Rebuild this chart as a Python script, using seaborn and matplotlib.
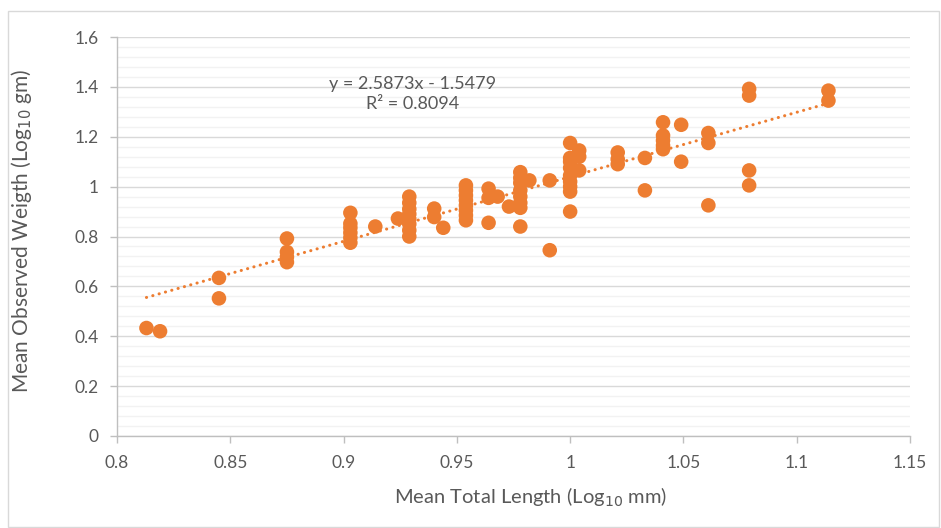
import numpy as np
import pandas as pd
import matplotlib
matplotlib.use('Agg')
import matplotlib.pyplot as plt
from matplotlib import ticker as mtick
from matplotlib.patches import Rectangle
import seaborn as sns

#log10 mean total length (mm) and log10 mean observed weight (gm)
length_log = ([0.813] + [0.819] + [0.845]*2 + [0.875]*4 + [0.903]*6 + [0.914] + [0.924]
              + [0.929]*8 + [0.940]*2 + [0.944] + [0.954]*8 + [0.964]*3 + [0.968]
              + [0.973] + [0.978]*8 + [0.982] + [0.991]*2 + [1.000]*9 + [1.004]*3
              + [1.021]*3 + [1.033]*2 + [1.041]*5 + [1.049]*2 + [1.061]*3
              + [1.079]*4 + [1.114]*2)

weight_log = [0.433,
              0.420,
              0.634, 0.552,
              0.792, 0.738, 0.718, 0.697,
              0.895, 0.852, 0.835, 0.815, 0.795, 0.775,
              0.840,
              0.872,
              0.960, 0.935, 0.910, 0.890, 0.870, 0.850, 0.825, 0.800,
              0.912, 0.878,
              0.835,
              1.005, 0.985, 0.965, 0.945, 0.925, 0.905, 0.885, 0.865,
              0.992, 0.955, 0.855,
              0.960,
              0.920,
              1.058, 1.035, 1.015, 0.985, 0.960, 0.935, 0.915, 0.840,
              1.025,
              1.025, 0.745,
              1.175, 1.115, 1.100, 1.075, 1.045, 1.020, 1.000, 0.980, 0.900,
              1.145, 1.120, 1.065,
              1.137, 1.110, 1.090,
              1.115, 0.985,
              1.258, 1.205, 1.185, 1.165, 1.150,
              1.248, 1.100,
              1.215, 1.175, 0.925,
              1.392, 1.365, 1.065, 1.005,
              1.385, 1.345]

#excel linear trendline
slope = 2.5873
intercept = -1.5479
r_squared = 0.8094

df = pd.DataFrame({'length': length_log, 'weight': weight_log})

orange = '#ED7D31'
grey_txt = '#595959'

sns.set_theme(style='white')
plt.rcParams['font.family'] = ['Lato', 'DejaVu Sans']

fig = plt.figure(figsize=(9.41, 5.28), dpi=100)
ax = fig.add_axes([117/941, 1-436/528, (910-117)/941, (436-37)/528])

#light border round the chart area
fig.patches.append(Rectangle((8/941, 1-527/528), (939-8)/941, (527-11)/528,
                             transform=fig.transFigure, fill=False,
                             edgecolor='#D9D9D9', linewidth=1))

trend = pd.DataFrame({'length': [df.length.min(), df.length.max()]})
trend['weight'] = slope*trend.length + intercept
sns.lineplot(data=trend, x='length', y='weight', ax=ax, color=orange,
             linewidth=2.2, linestyle=(0, (0.05, 2.1)),
             dash_capstyle='round', zorder=3)

sns.scatterplot(data=df, x='length', y='weight', ax=ax, color=orange,
                s=110, edgecolor='none', linewidth=0, zorder=4)

ax.set_xlim(0.8, 1.15)
ax.set_ylim(0, 1.6)
ax.xaxis.set_major_locator(mtick.MultipleLocator(0.05))
ax.yaxis.set_major_locator(mtick.MultipleLocator(0.2))
ax.yaxis.set_minor_locator(mtick.MultipleLocator(0.04))
ax.xaxis.set_major_formatter(mtick.FuncFormatter(lambda v, p: f'{v:.2f}'.rstrip('0').rstrip('.')))
ax.yaxis.set_major_formatter(mtick.FuncFormatter(lambda v, p: f'{v:.1f}'.rstrip('0').rstrip('.')))

ax.grid(True, which='major', axis='y', color='#D9D9D9', linewidth=1, zorder=0)
ax.grid(True, which='minor', axis='y', color='#F2F2F2', linewidth=1, zorder=0)
ax.grid(False, axis='x')
ax.set_axisbelow(True)

for s in ['top', 'right']:
    ax.spines[s].set_visible(False)
for s in ['left', 'bottom']:
    ax.spines[s].set_color('#BFBFBF')
    ax.spines[s].set_linewidth(1)

ax.tick_params(axis='x', which='major', pad=9)
ax.tick_params(axis='y', which='major', pad=8)
ax.tick_params(axis='both', which='major', direction='out', length=5, width=1,
               color='#BFBFBF', labelcolor=grey_txt, labelsize=12.5,
               left=True, bottom=True)
ax.tick_params(axis='y', which='minor', length=0)

ax.set_xlabel('Mean Total Length (Log$_{10}$ mm)', color=grey_txt, fontsize=14.5)
ax.set_ylabel('Mean Observed Weigth (Log$_{10}$ gm)', color=grey_txt, fontsize=15)
ax.xaxis.set_label_coords((531-117)/793, -(497-436)/399, transform=ax.transAxes)
ax.yaxis.set_label_coords(-(117-22)/793, (436-231)/399, transform=ax.transAxes)
ax.xaxis.label.set_va('center')
ax.yaxis.label.set_va('center')

ax.text(0.9305, 1.37, f'y = {slope}x - {abs(intercept)}\nR² = {r_squared}',
        ha='center', va='center', color=grey_txt, fontsize=13, linespacing=1.3)

fig.savefig('out.png', dpi=100)
